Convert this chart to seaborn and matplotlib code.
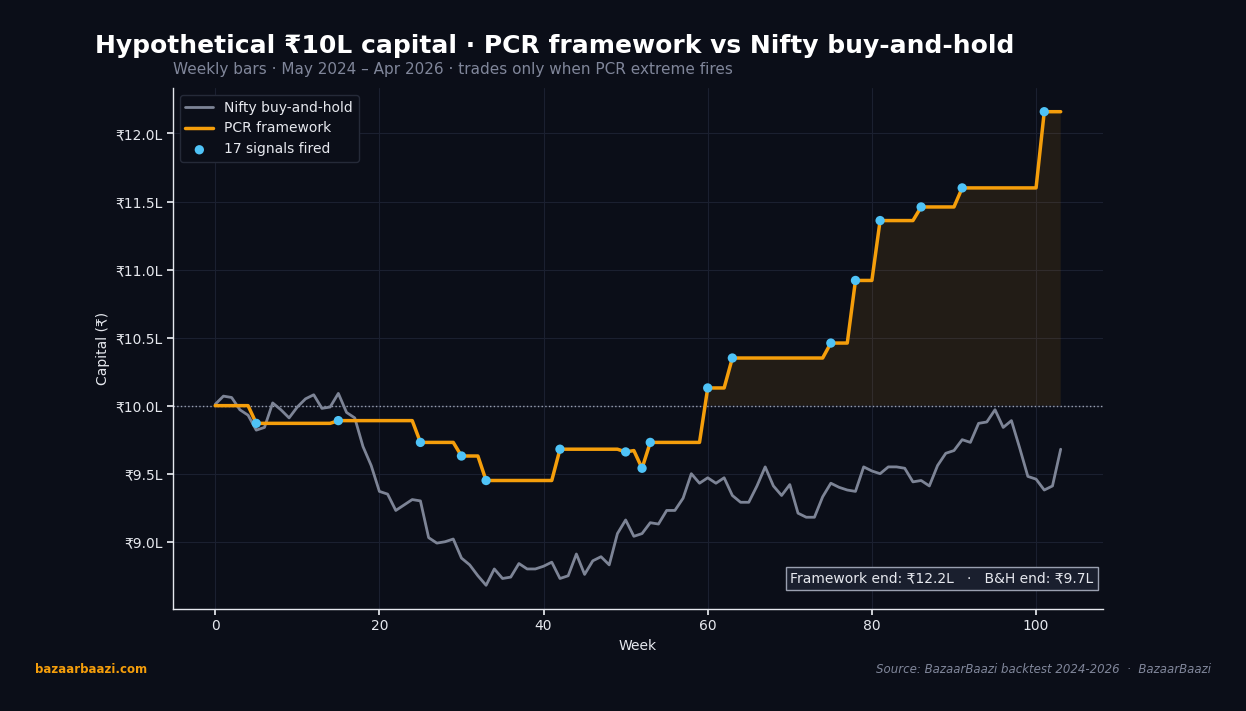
import numpy as np
import pandas as pd
import seaborn as sns
import matplotlib.pyplot as plt
from matplotlib.ticker import FuncFormatter

# Capital in lakhs (₹L), weekly bars
nifty = [10.01, 10.07, 10.06, 9.97, 9.93, 9.82, 9.84, 10.02, 9.97, 9.91,
         9.99, 10.05, 10.08, 9.98, 9.99, 10.09, 9.95, 9.91, 9.70, 9.56,
         9.37, 9.35, 9.23, 9.27, 9.31, 9.30, 9.03, 8.99, 9.00, 9.02,
         8.88, 8.83, 8.75, 8.68, 8.80, 8.73, 8.74, 8.84, 8.80, 8.80,
         8.82, 8.85, 8.73, 8.75, 8.91, 8.76, 8.86, 8.89, 8.83, 9.06,
         9.16, 9.04, 9.06, 9.14, 9.13, 9.23, 9.23, 9.32, 9.50, 9.43,
         9.47, 9.43, 9.47, 9.34, 9.29, 9.29, 9.41, 9.55, 9.41, 9.34,
         9.42, 9.21, 9.18, 9.18, 9.33, 9.43, 9.40, 9.38, 9.37, 9.55,
         9.52, 9.50, 9.55, 9.55, 9.54, 9.44, 9.45, 9.41, 9.56, 9.65,
         9.67, 9.75, 9.73, 9.87, 9.88, 9.97, 9.84, 9.89, 9.69, 9.48,
         9.46, 9.38, 9.41, 9.68]

pcr = [10.00, 10.00, 10.00, 10.00, 10.00, 9.87, 9.87, 9.87, 9.87, 9.87,
       9.87, 9.87, 9.87, 9.87, 9.87, 9.89, 9.89, 9.89, 9.89, 9.89,
       9.89, 9.89, 9.89, 9.89, 9.89, 9.73, 9.73, 9.73, 9.73, 9.73,
       9.63, 9.63, 9.63, 9.45, 9.45, 9.45, 9.45, 9.45, 9.45, 9.45,
       9.45, 9.45, 9.68, 9.68, 9.68, 9.68, 9.68, 9.68, 9.68, 9.68,
       9.66, 9.67, 9.54, 9.73, 9.73, 9.73, 9.73, 9.73, 9.73, 9.73,
       10.13, 10.13, 10.13, 10.35, 10.35, 10.35, 10.35, 10.35, 10.35, 10.35,
       10.35, 10.35, 10.35, 10.35, 10.35, 10.46, 10.46, 10.46, 10.92, 10.92,
       10.92, 11.36, 11.36, 11.36, 11.36, 11.36, 11.46, 11.46, 11.46, 11.46,
       11.46, 11.60, 11.60, 11.60, 11.60, 11.60, 11.60, 11.60, 11.60, 11.60,
       11.60, 12.16, 12.16, 12.16]

signal_weeks = [5, 15, 25, 30, 33, 42, 50, 52, 53, 60, 63, 75, 78, 81, 86, 91, 101]

weeks = np.arange(len(nifty))
df = pd.DataFrame({"week": weeks, "nifty": nifty, "pcr": pcr})
sig = df[df["week"].isin(signal_weeks)]

BG = "#0b0e18"
ORANGE = "#f59e0b"
GREY = "#7d8496"
BLUE = "#4fc3f7"
TEXT = "#e6e8ee"
MUTED = "#80869a"
GRID = "#1b2030"

sns.set_theme(style="dark")
plt.rcParams["font.family"] = ["DejaVu Sans"]

fig = plt.figure(figsize=(12.46, 7.11), dpi=100, facecolor=BG)
ax = fig.add_axes([0.1388, 0.1435, 0.7464, 0.7327], facecolor=BG)

ax.fill_between(df["week"], 10.0, df["pcr"], where=df["pcr"] >= 10.0,
                interpolate=True, color=ORANGE, alpha=0.1, linewidth=0)
ax.axhline(10.0, color="#9aa0b0", linestyle=":", linewidth=1)

sns.lineplot(data=df, x="week", y="nifty", ax=ax, color=GREY, linewidth=2,
             label="Nifty buy-and-hold")
sns.lineplot(data=df, x="week", y="pcr", ax=ax, color=ORANGE, linewidth=2.5,
             label="PCR framework")
sns.scatterplot(data=sig, x="week", y="pcr", ax=ax, color=BLUE, s=45,
                edgecolor="none", zorder=5, label=f"{len(signal_weeks)} signals fired")

ax.yaxis.set_major_formatter(FuncFormatter(lambda v, p: f"₹{v:.1f}L"))
ax.grid(True, color=GRID, linewidth=0.8)
for s in ["top", "right"]:
    ax.spines[s].set_visible(False)
for s in ["left", "bottom"]:
    ax.spines[s].set_color(TEXT)
    ax.spines[s].set_linewidth(1)
ax.tick_params(colors=TEXT, labelsize=10, length=4, left=True, bottom=True)
ax.set_xlabel("Week", color=TEXT, fontsize=10)
ax.set_ylabel("Capital (₹)", color=TEXT, fontsize=10)

leg = ax.legend(loc="upper left", fontsize=10, facecolor=BG, edgecolor="#252a38",
                framealpha=1)
for t in leg.get_texts():
    t.set_color(TEXT)

ax.text(0.99, 0.045,
        f"Framework end: ₹{pcr[-1]:.1f}L   ·   B&H end: ₹{nifty[-1]:.1f}L",
        transform=ax.transAxes, ha="right", va="bottom", fontsize=10, color=TEXT,
        bbox=dict(boxstyle="square,pad=0.3", facecolor="#1a1f2e", edgecolor="#9aa0b0"))

fig.text(0.076, 0.935, "Hypothetical ₹10L capital · PCR framework vs Nifty buy-and-hold",
         color="white", fontsize=18, fontweight="bold", ha="left", va="center")
ax.set_title("Weekly bars · May 2024 – Apr 2026 · trades only when PCR extreme fires",
             loc="left", color=MUTED, fontsize=11, pad=10)

fig.text(0.028, 0.059, "bazaarbaazi.com", color=ORANGE, fontsize=8.5,
         fontweight="bold", ha="left", va="center")
fig.text(0.972, 0.059, "Source: BazaarBaazi backtest 2024-2026  ·  BazaarBaazi",
         color=MUTED, fontsize=8.5, style="italic", ha="right", va="center")

fig.savefig("out.png", dpi=100, facecolor=BG)
